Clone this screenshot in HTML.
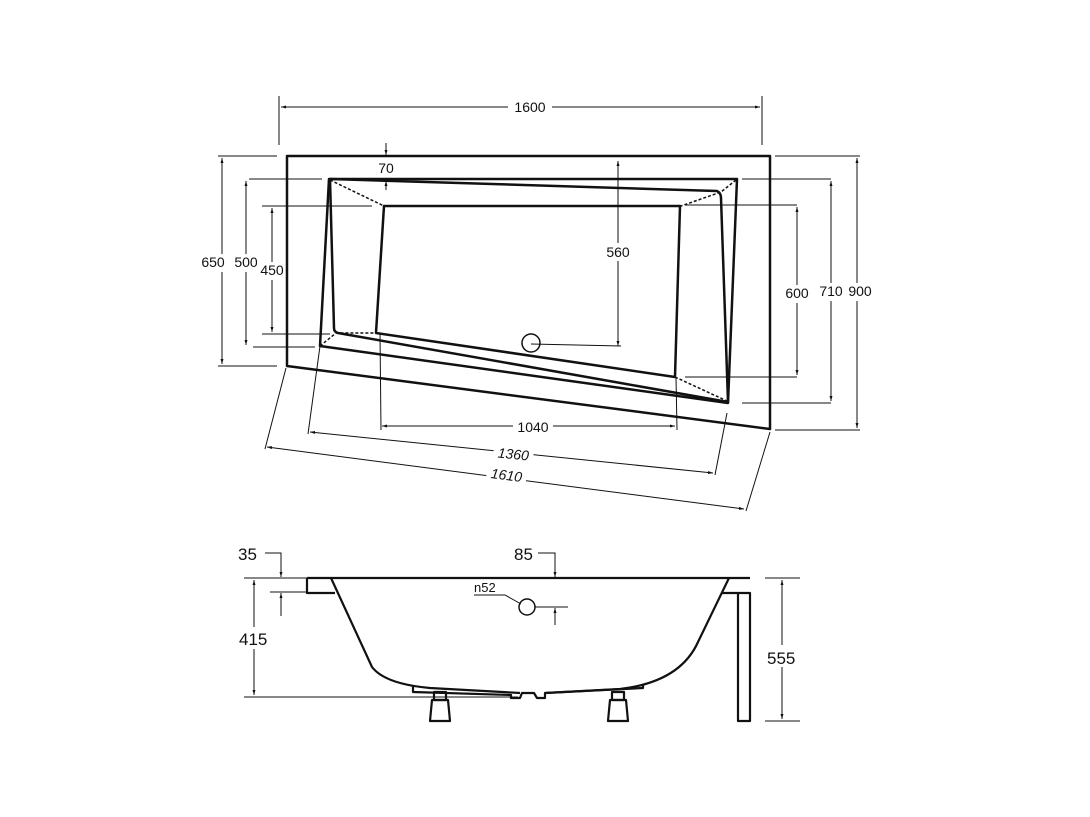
<!DOCTYPE html>
<html><head><meta charset="utf-8"><style>
html,body{margin:0;padding:0;background:#fff;}
svg{display:block;}
text{font-family:"Liberation Sans",Arial,sans-serif;font-size:14px;fill:#111;}
</style></head><body>
<svg width="1090" height="817" viewBox="0 0 1090 817" xmlns="http://www.w3.org/2000/svg">
<defs>
<marker id="a" viewBox="0 0 10 10" refX="10" refY="5" markerWidth="5" markerHeight="5" orient="auto-start-reverse"><path d="M0,2 L10,5 L0,8z" fill="#111"/></marker>
</defs>
<g fill="none" stroke="#111" stroke-width="2.5" stroke-linejoin="round">
<!-- outer frame -->
<path d="M287,156 L770,156 L770,429 L287,366 Z"/>
<!-- rim -->
<path d="M329,179 L737,179 L728,403 L320,346 Z"/>
<!-- inner -->
<path d="M330,179 L717,191 Q721,193 721,198 L728,402 L338,333 Q334,332 334,328 Z"/>
<!-- basin -->
<path d="M384,206 L680,206 L675,377 L376,333 Z"/>
</g>
<g fill="none" stroke="#111" stroke-width="1.5" stroke-dasharray="3,2">
<path d="M330,180 L384,206"/>
<path d="M736,180 L721,192 L681,206"/>
<path d="M675,377 L727,401"/>
<path d="M320,346 L336,333 L376,333"/>
</g>
<!-- drain -->
<circle cx="531" cy="343" r="9" fill="none" stroke="#111" stroke-width="1.5"/>
<g fill="none" stroke="#111" stroke-width="1">
<path d="M531,344 L621,346"/>
<path d="M618,161 L618,346" marker-start="url(#a)" marker-end="url(#a)"/>
<!-- 70 -->
<path d="M386,143 L386,155" marker-end="url(#a)"/>
<path d="M386,190 L386,181" marker-end="url(#a)"/>
<!-- 1600 -->
<path d="M281,107 L760,107" marker-start="url(#a)" marker-end="url(#a)"/>
<path d="M279,96 L279,145 M762,96 L762,145"/>
<!-- left dims -->
<path d="M222,158 L222,364" marker-start="url(#a)" marker-end="url(#a)"/>
<path d="M218,156 L277,156 M218,366 L277,366"/>
<path d="M246,181 L246,345" marker-start="url(#a)" marker-end="url(#a)"/>
<path d="M249,179 L322,179 M253,347 L315,347"/>
<path d="M272,208 L272,332" marker-start="url(#a)" marker-end="url(#a)"/>
<path d="M262,206 L372,206 M262,334 L330,334"/>
<!-- right dims -->
<path d="M857,158 L857,428" marker-start="url(#a)" marker-end="url(#a)"/>
<path d="M775,156 L860,156 M775,430 L860,430"/>
<path d="M831,181 L831,401" marker-start="url(#a)" marker-end="url(#a)"/>
<path d="M742,179 L831,179 M742,403 L831,403"/>
<path d="M797,207 L797,375" marker-start="url(#a)" marker-end="url(#a)"/>
<path d="M685,205 L797,205 M685,377 L797,377"/>
<!-- bottom dims -->
<path d="M382,426 L675,426" marker-start="url(#a)" marker-end="url(#a)"/>
<path d="M380,333 L381,430 M676,377 L677,430"/>
<path d="M310,432 L713,473" marker-start="url(#a)" marker-end="url(#a)"/>
<path d="M308,434 L320,346 M715,475 L727,413"/>
<path d="M267,447 L744,509" marker-start="url(#a)" marker-end="url(#a)"/>
<path d="M265,449 L286,368 M746,511 L770,432"/>
</g>
<g text-anchor="middle">
<rect x="508" y="98" width="44" height="18" fill="#fff"/>
<text x="530" y="112">1600</text>
<text x="386" y="173">70</text>
<rect x="603" y="243" width="30" height="18" fill="#fff"/>
<text x="618" y="257">560</text>
<rect x="200" y="254" width="26" height="18" fill="#fff"/>
<text x="213" y="267">650</text>
<rect x="233" y="254" width="26" height="18" fill="#fff"/>
<text x="246" y="267">500</text>
<rect x="259" y="262" width="26" height="18" fill="#fff"/>
<text x="272" y="275">450</text>
<rect x="783" y="285" width="28" height="18" fill="#fff"/>
<text x="797" y="298">600</text>
<rect x="817" y="283" width="28" height="18" fill="#fff"/>
<text x="831" y="296">710</text>
<rect x="846" y="283" width="28" height="18" fill="#fff"/>
<text x="860" y="296">900</text>
<rect x="513" y="418" width="40" height="18" fill="#fff"/>
<text x="533" y="432">1040</text>
<g transform="translate(513,458) rotate(5.7)"><rect x="-20" y="-13" width="40" height="18" fill="#fff"/><text x="0" y="1" font-style="italic">1360</text></g>
<g transform="translate(506,479) rotate(7.4)"><rect x="-20" y="-13" width="40" height="18" fill="#fff"/><text x="0" y="1" font-style="italic">1610</text></g>
</g>

<!-- side view -->
<g fill="none" stroke="#111" stroke-width="2.2" stroke-linejoin="round">
<path d="M307,578 L750,578"/>
<path d="M307,578 L307,593 L335,593"/>
<path d="M331,578 L372,667 Q385,684 430,688 L520,693 M545,693 L620,689 Q680,682 698,642 L729,578"/>
<path d="M721,593 L750,593 L750,721 L738,721 L738,593"/>
<path d="M413,686 L413,692 L511,695 L511,698 L520,698 L522,693 L534,693 L537,698 L545,698 L545,693 L643,688 L643,684"/>
<path d="M434,692 L446,692 L446,700 L434,700 Z"/>
<path d="M432,700 L448,700 L450,721 L430,721 Z"/>
<path d="M612,692 L624,692 L624,700 L612,700 Z"/>
<path d="M610,700 L626,700 L628,721 L608,721 Z"/>
</g>
<circle cx="527" cy="607" r="8" fill="none" stroke="#111" stroke-width="1.5"/>
<g fill="none" stroke="#111" stroke-width="1">
<path d="M265,553 L281,553 L281,577" marker-end="url(#a)"/>
<path d="M270,592 L307,592"/>
<path d="M281,616 L281,593" marker-end="url(#a)"/>
<path d="M254,580 L254,695" marker-start="url(#a)" marker-end="url(#a)"/>
<path d="M244,578 L307,578 M244,697 L518,697"/>
<path d="M538,553 L555,553 L555,577" marker-end="url(#a)"/>
<path d="M474,595 L505,595 L521,604"/>
<path d="M535,607 L568,607"/>
<path d="M555,625 L555,608" marker-end="url(#a)"/>
<path d="M782,580 L782,719" marker-start="url(#a)" marker-end="url(#a)"/>
<path d="M765,578 L800,578 M765,721 L800,721"/>
</g>
<g font-size="17">
<text x="238" y="560" style="font-size:17px">35</text>
<text x="514" y="560" style="font-size:17px">85</text>
<rect x="236" y="627" width="34" height="22" fill="#fff"/>
<text x="239" y="645" style="font-size:17px">415</text>
<rect x="764" y="645" width="36" height="22" fill="#fff"/>
<text x="767" y="664" style="font-size:17px">555</text>
<text x="474" y="592" style="font-size:13px">n52</text>
</g>
</svg>
</body></html>
